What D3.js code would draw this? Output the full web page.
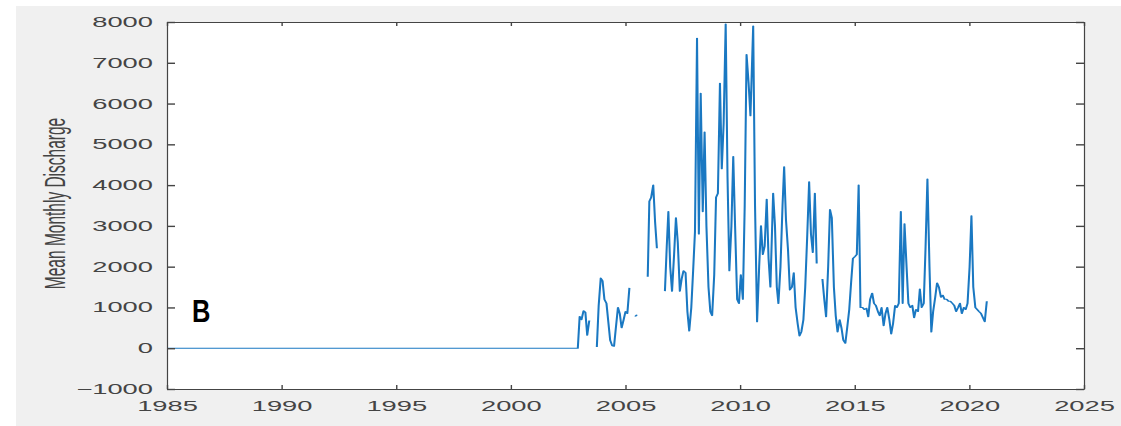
<!DOCTYPE html>
<html>
<head>
<meta charset="utf-8">
<script src="https://cdn.jsdelivr.net/npm/d3@7"></script>
<style>
  body { margin: 0; background: #fff; }
  svg { display: block; }
</style>
</head>
<body>
<div id="chart"></div>
<script>
// monthly mean discharge, NaN marks missing months
var years = [
  1985.00, 2002.92,
  2003.00, 2003.08, 2003.17, 2003.25, 2003.33, 2003.42, 2003.58,
  2003.75, 2003.83, 2003.92, 2004.00, 2004.08, 2004.17, 2004.25, 2004.33, 2004.42, 2004.50,
  2004.58, 2004.67, 2004.75, 2004.83, 2004.92, 2005.00, 2005.08, 2005.17, 2005.30,
  2005.42, 2005.50, 2005.70,
  2005.97, 2006.04, 2006.12, 2006.21, 2006.29, 2006.37, 2006.55,
  2006.72, 2006.80, 2006.87, 2006.95, 2007.03, 2007.12, 2007.20, 2007.28, 2007.37, 2007.45,
  2007.53, 2007.62, 2007.70, 2007.78, 2007.87, 2007.95, 2008.03, 2008.12, 2008.20, 2008.28,
  2008.37, 2008.45, 2008.53, 2008.62, 2008.70, 2008.78, 2008.87, 2008.95, 2009.03, 2009.12,
  2009.20, 2009.28, 2009.37, 2009.45, 2009.53, 2009.62, 2009.70, 2009.78, 2009.87, 2009.95,
  2010.03, 2010.12, 2010.20, 2010.28, 2010.37, 2010.45, 2010.57, 2010.65, 2010.74, 2010.83,
  2010.91, 2010.99, 2011.07, 2011.16, 2011.24, 2011.32, 2011.44, 2011.52, 2011.60, 2011.67,
  2011.76, 2011.85, 2011.92, 2012.00, 2012.09, 2012.17, 2012.26, 2012.34, 2012.42, 2012.51,
  2012.59, 2012.67, 2012.76, 2012.84, 2012.93, 2013.01, 2013.09, 2013.17, 2013.26, 2013.34,
  2013.46,
  2013.59, 2013.67, 2013.75, 2013.84, 2013.92, 2014.00, 2014.09, 2014.17, 2014.25, 2014.34,
  2014.42, 2014.50, 2014.59, 2014.67, 2014.76, 2014.84, 2014.92, 2015.01, 2015.09, 2015.17,
  2015.25, 2015.34, 2015.42, 2015.51, 2015.59, 2015.67, 2015.76, 2015.84, 2015.92, 2016.01,
  2016.09, 2016.17, 2016.26, 2016.34, 2016.42, 2016.51, 2016.59, 2016.67, 2016.76, 2016.84,
  2016.92, 2017.01, 2017.09, 2017.17, 2017.26, 2017.34, 2017.42, 2017.51, 2017.59, 2017.67,
  2017.76, 2017.84, 2017.92, 2018.01, 2018.09, 2018.17, 2018.26, 2018.34, 2018.42, 2018.51,
  2018.59, 2018.67, 2018.76, 2018.84, 2018.92, 2019.01, 2019.09, 2019.17, 2019.26, 2019.34,
  2019.42, 2019.51, 2019.59, 2019.67, 2019.76, 2019.84, 2019.92, 2020.01, 2020.09, 2020.17,
  2020.26, 2020.34, 2020.42, 2020.51, 2020.59, 2020.67, 2020.76
];

var discharge = [
  0, 0,
  780, 700, 920, 880, 320, 680, NaN,
  30, 1050, 1720, 1650, 1200, 1100, 650, 200, 60, 50,
  500, 1000, 850, 500, 700, 900, 850, 1480, NaN,
  780, 820, NaN,
  1750, 3600, 3700, 4000, 3100, 2450, NaN,
  1400, 2500, 3350, 2000, 1400, 2300, 3200, 2600, 1400, 1700,
  1900, 1850, 900, 420, 1000, 1900, 2850, 7600, 2800, 6250,
  3350, 5300, 3000, 1500, 900, 800, 1800, 3700, 3800, 6500,
  4400, 5500, 7950, 4200, 1900, 3000, 4700, 3000, 1200, 1100,
  1800, 1200, 3500, 7200, 6500, 5700, 7900, 3500, 650, 2000,
  3000, 2300, 2500, 3650, 2200, 1500, 3800, 3000, 1500, 1100,
  2000, 3500, 4450, 3150, 2400, 1430, 1500, 1850, 1000, 600,
  300, 400, 700, 1500, 2800, 4080, 2800, 2350, 3800, 2080,
  NaN,
  1700, 1200, 770, 2000, 3400, 3200, 1500, 800, 400, 700,
  500, 200, 120, 500, 950, 1600, 2200, 2250, 2300, 4000,
  1000, 1000, 950, 980, 770, 1200, 1350, 1100, 1050, 900,
  800, 1000, 550, 850, 1000, 700, 350, 600, 1050, 1000,
  1100, 3350, 1100, 3050, 2000, 1100, 1000, 1050, 750, 950,
  900, 1450, 1000, 1100, 2500, 4150, 2000, 400, 900, 1250,
  1600, 1500, 1250, 1300, 1200, 1200, 1150, 1150, 1100, 1050,
  900, 1000, 1100, 850, 1000, 950, 1100, 2000, 3250, 1500,
  1000, 950, 900, 850, 750, 650, 1150
];

var xTicks = [1985, 1990, 1995, 2000, 2005, 2010, 2015, 2020, 2025];
var yTicks = [-1000, 0, 1000, 2000, 3000, 4000, 5000, 6000, 7000, 8000];

var W = 1121, H = 426;
var margin = {left: 167, top: 22, right: 37, bottom: 37};
var stretch = 1.95; // the picture is stretched sideways, so strokes and text are too

var svg = d3.select("#chart").append("svg")
  .attr("width", W)
  .attr("height", H);

svg.append("rect")
  .attr("x", 16).attr("y", 6)
  .attr("width", W - 16).attr("height", H - 6)
  .attr("fill", "#f0f0f0");

var x = d3.scaleLinear().domain([1985, 2025]).range([margin.left, W - margin.right]);
var y = d3.scaleLinear().domain([-1000, 8000]).range([H - margin.bottom, margin.top]);

svg.append("rect")
  .attr("x", x(1985)).attr("y", y(8000))
  .attr("width", x(2025) - x(1985))
  .attr("height", y(-1000) - y(8000))
  .attr("fill", "#fff");

svg.append("clipPath").attr("id", "clip")
  .append("rect")
  .attr("x", x(1985)).attr("y", y(8000))
  .attr("width", x(2025) - x(1985))
  .attr("height", y(-1000) - y(8000));

var data = years.map(function(t, i) { return {t: t, v: discharge[i]}; });

// draw in a squeezed frame and stretch back, so steep strokes come out wider
var line = d3.line()
  .defined(function(d) { return !isNaN(d.v); })
  .x(function(d) { return x(d.t) / stretch; })
  .y(function(d) { return y(d.v); });

svg.append("g")
  .attr("clip-path", "url(#clip)")
  .append("g")
  .attr("transform", "scale(" + stretch + ",1)")
  .append("path")
  .datum(data)
  .attr("fill", "none")
  .attr("stroke", "#1a78c2")
  .attr("stroke-width", 1.05)
  .attr("stroke-linejoin", "round")
  .attr("d", line);

// axes, MATLAB style box with inward ticks on all sides
var axisColor = "#444";

var gx = svg.append("g")
  .attr("transform", "translate(0," + y(-1000) + ")")
  .call(d3.axisBottom(x).tickValues(xTicks).tickFormat(d3.format("d"))
    .tickSizeInner(-4).tickSizeOuter(0).tickPadding(12.5));

var gxTop = svg.append("g")
  .attr("transform", "translate(0," + y(8000) + ")")
  .call(d3.axisTop(x).tickValues(xTicks).tickFormat("")
    .tickSizeInner(-4).tickSizeOuter(0));

var gy = svg.append("g")
  .attr("transform", "translate(" + x(1985) + ",0)")
  .call(d3.axisLeft(y).tickValues(yTicks).tickFormat(d3.format("d"))
    .tickSizeInner(-8).tickSizeOuter(0).tickPadding(7.2));

var gyRight = svg.append("g")
  .attr("transform", "translate(" + x(2025) + ",0)")
  .call(d3.axisRight(y).tickValues(yTicks).tickFormat("")
    .tickSizeInner(-8).tickSizeOuter(0));

[gx, gxTop, gy, gyRight].forEach(function(g) {
  g.select(".domain").attr("stroke", axisColor).attr("stroke-width", 1.2);
  g.selectAll(".tick line").attr("stroke", axisColor).attr("stroke-width", 1.4);
  g.selectAll(".tick text")
    .attr("fill", "#444")
    .style("font-family", "'Liberation Sans', Arial, sans-serif")
    .style("font-size", "14px")
    .attr("transform", "scale(" + stretch + ",1)");
});

gx.selectAll(".tick text").attr("dy", "0.71em");

// y label, also stretched sideways
svg.append("text")
  .attr("transform", "translate(65," + ((y(8000) + y(-1000)) / 2 - 2) + ") scale(" + stretch + ",1) rotate(-90)")
  .attr("text-anchor", "middle")
  .attr("fill", "#444")
  .style("font-family", "'Liberation Sans', Arial, sans-serif")
  .style("font-size", "15.5px")
  .text("Mean Monthly Discharge");

// panel letter
svg.append("text")
  .attr("transform", "translate(192,322) scale(0.88,1.05)")
  .attr("fill", "#000")
  .style("font-family", "'Liberation Sans', Arial, sans-serif")
  .style("font-weight", "bold")
  .style("font-size", "29px")
  .text("B");
</script>
</body>
</html>
